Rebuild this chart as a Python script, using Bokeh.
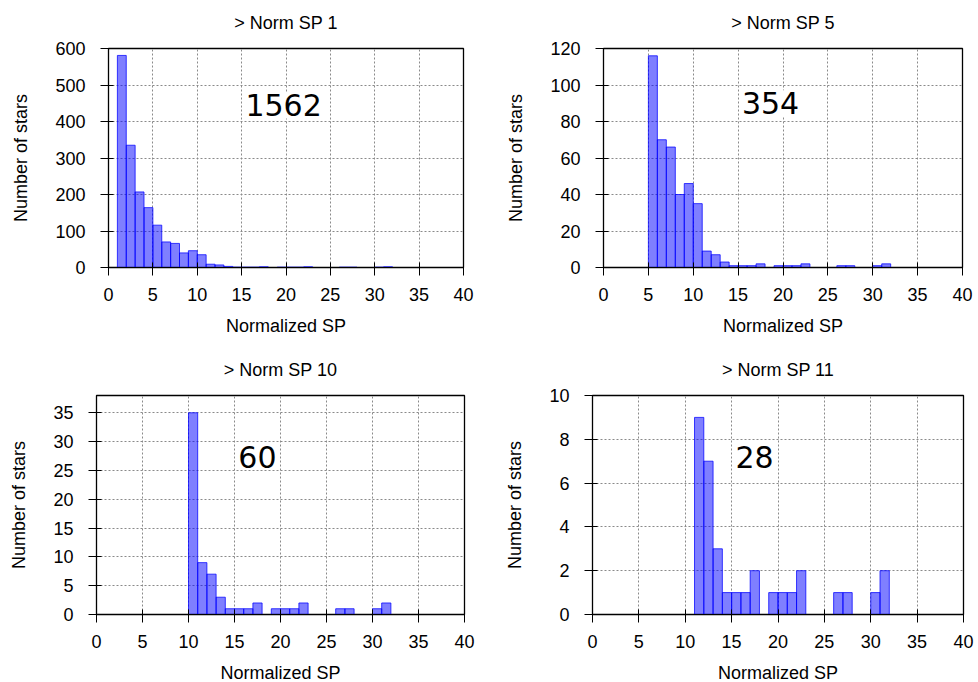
from bokeh.plotting import figure
from bokeh.layouts import column, row
from bokeh.models import FixedTicker, Label, ColumnDataSource, Title
from bokeh.embed import file_html
from bokeh.resources import INLINE

# ---- data ----
titles = ["> Norm SP 1", "> Norm SP 5", "> Norm SP 10", "> Norm SP 11"]
totals = ["1562", "354", "60", "28"]
bin_width = 1

p1_bins = [1, 2, 3, 4, 5, 6, 7, 8, 9, 10, 11, 12, 13, 14, 15, 16, 17, 19, 20, 21, 22, 26, 27, 30, 31]
p1_counts = [581, 335, 207, 164, 116, 70, 66, 40, 46, 35, 9, 7, 3, 1, 1, 1, 2, 1, 1, 1, 2, 1, 1, 1, 2]

p2_bins = [5, 6, 7, 8, 9, 10, 11, 12, 13, 14, 15, 16, 17, 19, 20, 21, 22, 26, 27, 30, 31]
p2_counts = [116, 70, 66, 40, 46, 35, 9, 7, 3, 1, 1, 1, 2, 1, 1, 1, 2, 1, 1, 1, 2]

p3_bins = [10, 11, 12, 13, 14, 15, 16, 17, 19, 20, 21, 22, 26, 27, 30, 31]
p3_counts = [35, 9, 7, 3, 1, 1, 1, 2, 1, 1, 1, 2, 1, 1, 1, 2]

p4_bins = [11, 12, 13, 14, 15, 16, 17, 19, 20, 21, 22, 26, 27, 30, 31]
p4_counts = [9, 7, 3, 1, 1, 1, 2, 1, 1, 1, 2, 1, 1, 1, 2]

x_ticks = [0, 5, 10, 15, 20, 25, 30, 35, 40]
y_ticks = [
    [0, 100, 200, 300, 400, 500, 600],
    [0, 20, 40, 60, 80, 100, 120],
    [0, 5, 10, 15, 20, 25, 30, 35],
    [0, 2, 4, 6, 8, 10],
]
y_max = [600, 120, 38, 10]

# ---- layout / positions ----
ann_x = 15.2
ann_y = [444, 90, 27.4, 7.2]
# (min_border_left, frame_width, min_border_right, min_border_top, frame_height, min_border_bottom)
geom = [
    (108, 355, 27, 48, 219, 73),
    (113, 359, 14, 48, 219, 73),
    (96, 368, 26, 55, 219, 60),
    (102, 371, 13, 55, 219, 60),
]

FONT = "Liberation Sans"


def make_panel(i, bins, counts):
    bl, fw, br, bt, fh, bb = geom[i]
    p = figure(
        output_backend="svg", toolbar_location=None,
        frame_width=fw, frame_height=fh,
        min_border_left=bl, min_border_right=br,
        min_border_top=bt, min_border_bottom=bb,
        x_range=(0, 40), y_range=(0, y_max[i]),
    )
    src = ColumnDataSource(dict(
        left=bins,
        right=[b + bin_width for b in bins],
        top=counts,
    ))
    p.quad(left="left", right="right", top="top", bottom=0, source=src,
           fill_color="blue", fill_alpha=0.5, line_color="blue", line_alpha=0.75,
           line_width=1)

    # spacer (closest to the frame) then the visible title
    p.add_layout(Title(text=" ", text_font_size="2px", standoff=7), "above")
    p.add_layout(Title(text=titles[i], text_font=FONT, text_font_size="18px",
                       text_font_style="normal", text_color="black",
                       align="center"), "above")

    p.outline_line_color = "black"
    p.outline_line_width = 1.3
    p.outline_line_alpha = 1

    for ax in (p.xaxis, p.yaxis):
        ax.major_label_text_font = FONT
        ax.major_label_text_font_size = "18px"
        ax.major_label_text_color = "black"
        ax.axis_label_text_font = FONT
        ax.axis_label_text_font_size = "18px"
        ax.axis_label_text_font_style = "normal"
        ax.axis_label_text_color = "black"
        ax.axis_line_color = "black"
        ax.major_tick_line_color = "black"
        ax.major_tick_in = 5
        ax.major_tick_out = 8
        ax.minor_tick_line_color = None

    p.xaxis.ticker = FixedTicker(ticks=x_ticks)
    p.yaxis.ticker = FixedTicker(ticks=y_ticks[i])
    p.xaxis.axis_label = "Normalized SP"
    p.yaxis.axis_label = "Number of stars"
    p.xaxis.major_label_standoff = 12
    p.xaxis.axis_label_standoff = 12
    p.yaxis.major_label_standoff = 15
    p.yaxis.axis_label_standoff = 21

    p.xgrid.ticker = FixedTicker(ticks=x_ticks)
    p.ygrid.ticker = FixedTicker(ticks=y_ticks[i])
    for g in (p.xgrid, p.ygrid):
        g.grid_line_color = "#8a8a8a"
        g.grid_line_dash = "2 2"
        g.grid_line_width = 1

    lab = Label(x=ann_x, y=ann_y[i], text=totals[i],
                text_align="left", text_baseline="middle",
                text_font="DejaVu Sans", text_font_size="30px",
                text_color="black",
                background_fill_color="white", background_fill_alpha=1,
                padding=2)
    p.add_layout(lab)
    return p


p1 = make_panel(0, p1_bins, p1_counts)
p2 = make_panel(1, p2_bins, p2_counts)
p3 = make_panel(2, p3_bins, p3_counts)
p4 = make_panel(3, p4_bins, p4_counts)

layout = column(row(p1, p2), row(p3, p4))

with open("out.html", "w") as f:
    f.write(file_html(layout, INLINE))
